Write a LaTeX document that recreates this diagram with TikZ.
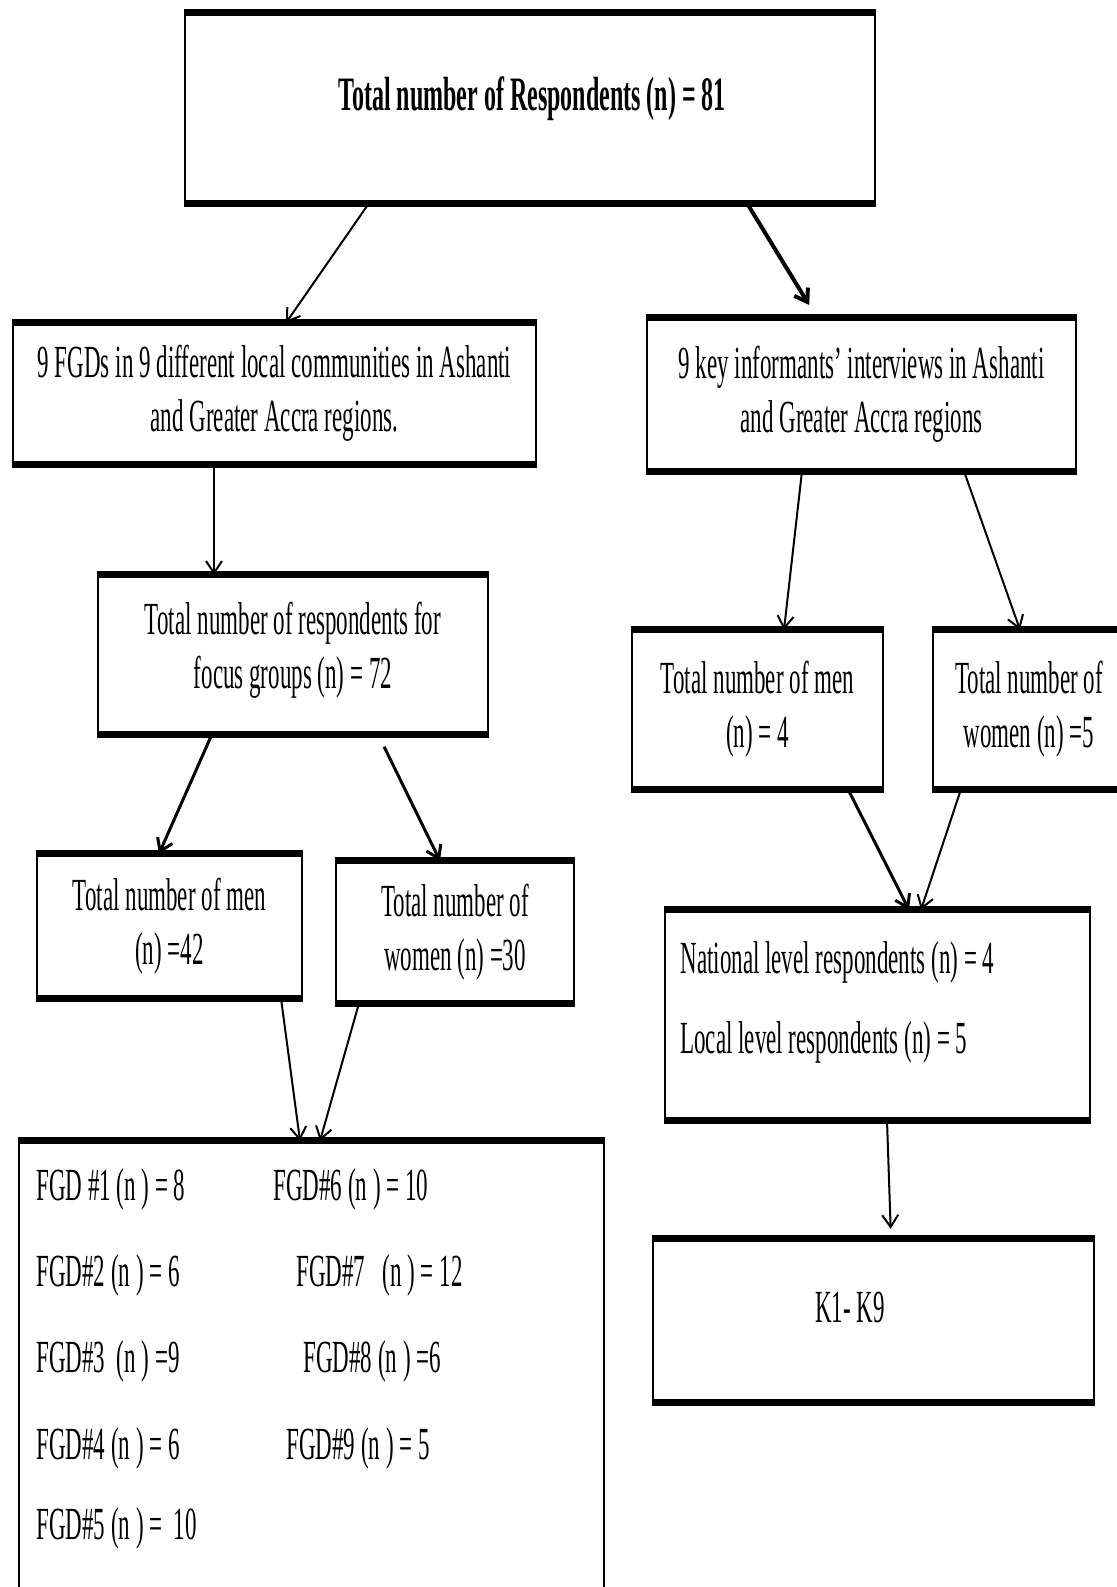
\documentclass[tikz,border=0pt]{standalone}
\usepackage{fontspec}
\setmainfont{Liberation Serif}[FakeStretch=0.5]
\usepackage{tikz}
\usetikzlibrary{arrows.meta}
\tikzset{box/.style={rectangle,draw,line width=1.2pt,align=center,inner sep=0pt,font=\fontsize{23}{27}\selectfont}}
\tikzset{txt/.style={inner sep=0pt,font=\fontsize{23}{27}\selectfont}}
\tikzset{bar/.style={line width=3.6pt}}
\tikzset{arr/.style={-{Straight Barb[length=6pt,width=8pt]},line width=1pt}}

\begin{document}
\begin{tikzpicture}[x=0.5pt,y=-0.5pt]
  \useasboundingbox (0,0) rectangle (1116,1587);
  \fill[white] (0,0) rectangle (1116,1587);

	% top
	\node[box, minimum width=345pt, minimum height=94pt] (total) at (530,108) {};
	\node[txt, anchor=base, font=\fontsize{24}{29}\selectfont\bfseries] (totaltxt) at (532,110) {Total number of Respondents (n) = 81};

	% focus groups side
	\node[box, minimum width=261.5pt, minimum height=69.5pt] (fgds) at (274.5,393.5)
		{9 FGDs in 9 different local communities in Ashanti\\ and Greater Accra regions.};
	\node[box, minimum width=195pt, minimum height=78.5pt] (fgtotal) at (293,654.5) {};
	\node[txt, align=center] (fgtotaltxt) at (293,650) {Total number of respondents for\\ focus groups (n) = 72};
	\node[box, minimum width=132.5pt, minimum height=71pt] (fgmen) at (169.5,926) {Total number of men\\ (n) =42};
	\node[box, minimum width=119pt, minimum height=70pt] (fgwomen) at (455,932) {Total number of\\ women (n) =30};
	\node[box, minimum width=292.5pt, minimum height=239pt] (fglist) at (311.5,1381) {};

	\foreach \y/\a/\x/\b in {1200/FGD \#1 (n ) = 8/273/FGD\#6 (n ) = 10,
	                         1286/FGD\#2 (n ) = 6/296/FGD\#7 \ \ (n ) = 12,
	                         1372/FGD\#3 \ (n ) =9/303/FGD\#8 (n ) =6,
	                         1459/FGD\#4 (n ) = 6/286/FGD\#9 (n ) = 5} {
		\node[txt, anchor=base west] (fgl\y) at (36,\y) {\a};
		\node[txt, anchor=base west] (fgr\y) at (\x,\y) {\b};
	}
	\node[txt, anchor=base west] (fgl1539) at (36,1539) {FGD\#5 (n ) = \ 10};

	% key informants side
	\node[box, minimum width=214.5pt, minimum height=75.5pt] (kii) at (861.5,394.5)
		{9 key informants' interviews in Ashanti\\ and Greater Accra regions};
	\node[box, minimum width=125.5pt, minimum height=78.5pt] (kimen) at (757.5,709.5) {Total number of men\\ (n) = 4};
	\node[box, minimum width=96pt, minimum height=78.5pt] (kiwomen) at (1029,709.5) {Total number of\\ women (n) =5};
	\node[box, minimum width=212.5pt, minimum height=104pt] (kilevel) at (877.5,1015) {};
	\node[txt, anchor=base west] (kinat) at (680,973) {National level respondents (n) = 4};
	\node[txt, anchor=base west] (kiloc) at (680,1053) {Local level respondents (n) = 5};
	\node[box, minimum width=220.5pt, minimum height=80.5pt] (kcodes) at (873.5,1320.5) {};
	\node[txt, anchor=base] (kcodestxt) at (850,1322) {K1- K9};

	% heavy top and bottom edges
	\foreach \n in {total,fgds,kii,fgtotal,kimen,kiwomen,fgmen,fgwomen,kilevel,fglist,kcodes} {
		\draw[bar] (\n.north west) -- (\n.north east);
		\draw[bar] (\n.south west) -- (\n.south east);
	}

	\draw[arr] (total.south -| 369,0) -- (fgds.north -| 286,0);
	\draw[arr, line width=2pt, shorten >=7.5pt] (total.south -| 747,0) -- (kii.north -| 817,0);
	\draw[arr] (fgds.south -| 214,0) -- (fgtotal.north -| 214,0);
	\draw[arr, line width=1.5pt] (fgtotal.south -| 212,0) -- (fgmen.north -| 159,0);
	\draw[arr, line width=1.5pt, shorten <=7pt] (fgtotal.south -| 378,0) -- (fgwomen.north -| 440,0);
	\draw[arr] (fgmen.south -| 281,0) -- (fglist.north -| 300,0);
	\draw[arr] (fgwomen.south -| 359,0) -- (fglist.north -| 320,0);
	\draw[arr] (kii.south -| 802,0) -- (kimen.north -| 784,0);
	\draw[arr] (kii.south -| 964,0) -- (kiwomen.north -| 1020,0);
	\draw[arr, line width=1.5pt] (kimen.south -| 848,0) -- (kilevel.north -| 909,0);
	\draw[arr] (kiwomen.south -| 961,0) -- (kilevel.north -| 921,0);
	\draw[arr, shorten >=5pt] (kilevel.south -| 887,0) -- (kcodes.north -| 891,0);

\end{tikzpicture}
\end{document}
